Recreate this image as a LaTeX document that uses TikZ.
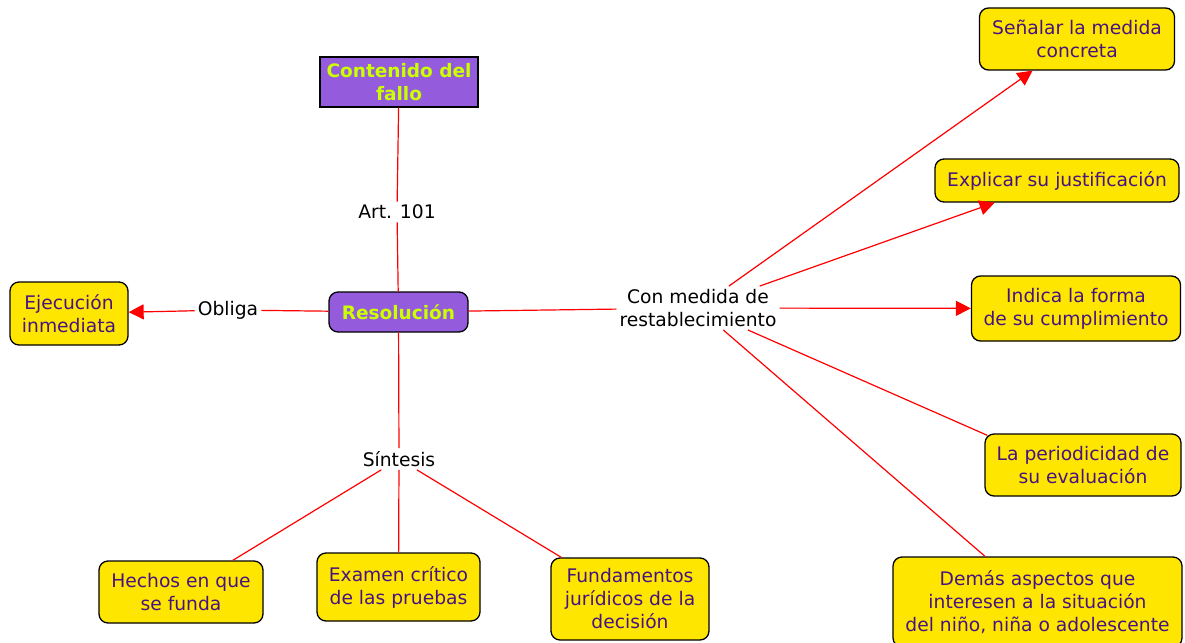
\documentclass[tikz,border=0pt]{standalone}
\usepackage{fontspec}
\setmainfont{DejaVu Sans}
\usetikzlibrary{arrows.meta}
\definecolor{boxyellow}{RGB}{255,230,0}
\definecolor{boxtext}{RGB}{70,20,130}
\definecolor{mainpurple}{RGB}{148,92,220}
\definecolor{maintext}{RGB}{204,255,0}
\definecolor{linkred}{RGB}{255,0,0}
\tikzset{
  concept/.style={draw=black, line width=1.3pt, fill=boxyellow, text=boxtext, rounded corners=9pt, align=center, inner sep=2pt, font=\fontsize{18.7}{23}\selectfont},
  mainbox/.style={draw=black, line width=1.3pt, fill=mainpurple, text=maintext, align=center, inner sep=2pt, font=\fontsize{18.5}{23}\selectfont\bfseries},
  linklabel/.style={text=black, align=center, inner sep=3pt, font=\fontsize{18.7}{23}\selectfont},
  link/.style={draw=linkred, line width=1.2pt},
  linkarrow/.style={link, -{Triangle[length=15pt,width=15pt]}, fill=linkred}
}
\begin{document}
\begin{tikzpicture}[x=1pt,y=-1pt]
\useasboundingbox[fill=white] (0,0) rectangle (1185,642);
% main nodes
\node[mainbox, minimum width=158pt, minimum height=50pt] (cont) at (399,82) {Contenido del\\fallo};
\node[mainbox, rounded corners=9pt, minimum width=139pt, minimum height=40pt] (res) at (398.5,312) {Resolución};
% labels
\node[linklabel] (art) at (397,212) {Art. 101};
\node[linklabel] (obl) at (228,310) {Obliga};
\node[linklabel] (sin) at (399,459) {Síntesis};
\node[linklabel] (con) at (698,308) {Con medida de\\restablecimiento};
% concepts
\node[concept, minimum width=118pt, minimum height=63pt] (eje) at (69,313.5) {Ejecución\\inmediata};
\node[concept, minimum width=195pt, minimum height=62pt] (sen) at (1077,39) {Señalar la medida\\concreta};
\node[concept, minimum width=244pt, minimum height=43pt] (exp) at (1057,180.5) {Explicar su justificación};
\node[concept, minimum width=209pt, minimum height=65pt] (ind) at (1076,308.5) {Indica la forma\\de su cumplimiento};
\node[concept, minimum width=196pt, minimum height=62pt] (per) at (1083,465) {La periodicidad de\\su evaluación};
\node[concept, minimum width=289pt, minimum height=90pt] (dem) at (1037.5,602) {Demás aspectos que\\interesen a la situación\\del niño, niña o adolescente};
\node[concept, minimum width=164pt, minimum height=62pt] (hec) at (181,592) {Hechos en que\\se funda};
\node[concept, minimum width=163pt, minimum height=68pt] (exa) at (398.5,587) {Examen crítico\\de las pruebas};
\node[concept, minimum width=158pt, minimum height=82pt] (fun) at (630,599) {Fundamentos\\jurídicos de la\\decisión};
% connectors
\draw[link] (res) -- (art);
\draw[link] (art) -- (cont);
\draw[link] (res) -- (obl);
\draw[linkarrow] (obl) -- (eje);
\draw[link] (res) -- (sin);
\draw[link] (sin) -- (hec);
\draw[link] (sin) -- (exa);
\draw[link] (sin) -- (fun);
\draw[link] (res) -- (con);
\draw[linkarrow] (con) -- (sen);
\draw[linkarrow] (con) -- (exp);
\draw[linkarrow] (con) -- (ind);
\draw[link] (con) -- ([xshift=3pt,yshift=-2pt]per.north west);
\draw[link] (con) -- (dem);
\end{tikzpicture}
\end{document}
